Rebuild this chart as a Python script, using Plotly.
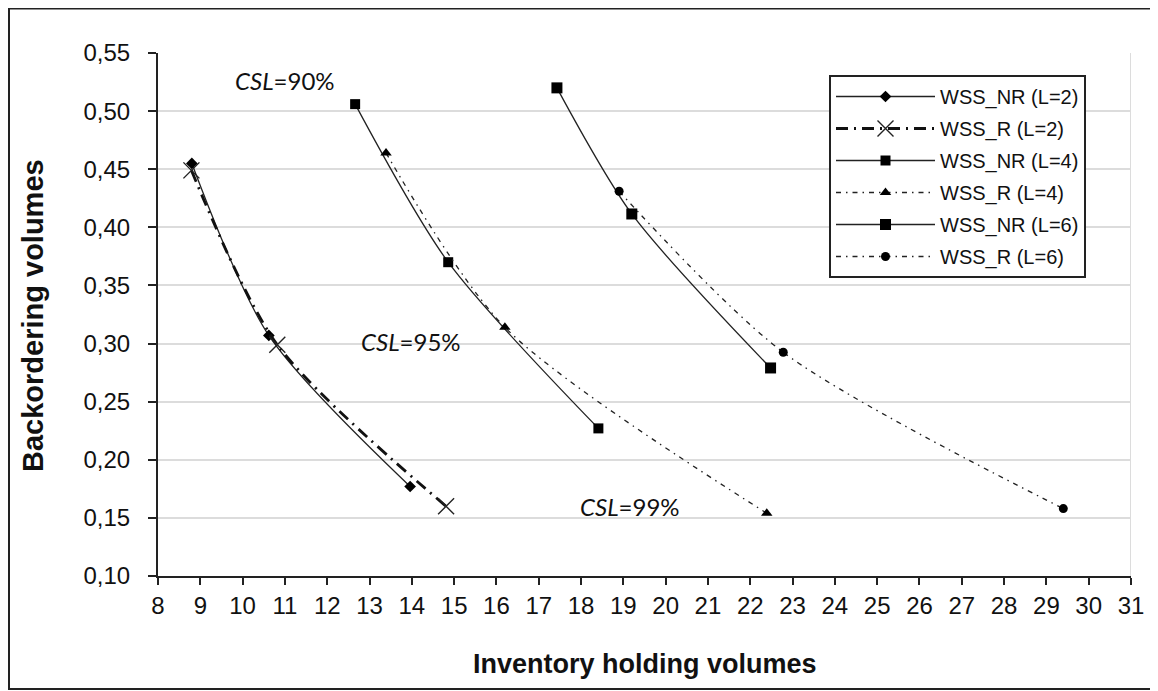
import plotly.graph_objects as go

# Data
nr2_x = [8.80, 10.62, 13.96]
nr2_y = [0.455, 0.307, 0.177]
r2_x = [8.79, 10.82, 14.81]
r2_y = [0.449, 0.299, 0.160]
nr4_x = [12.66, 14.86, 18.41]
nr4_y = [0.506, 0.370, 0.227]
r4_x = [13.39, 16.20, 22.39]
r4_y = [0.464, 0.314, 0.154]
nr6_x = [17.43, 19.20, 22.48]
nr6_y = [0.520, 0.4115, 0.279]
r6_x = [18.90, 22.78, 29.40]
r6_y = [0.431, 0.2925, 0.158]

names = ["WSS_NR (L=2)", "WSS_R (L=2)", "WSS_NR (L=4)", "WSS_R (L=4)", "WSS_NR (L=6)", "WSS_R (L=6)"]

csl_labels = ["<i>CSL</i>=90%", "<i>CSL</i>=95%", "<i>CSL</i>=99%"]
csl_x = [11.0, 13.98, 19.15]
csl_y = [0.526, 0.302, 0.160]

fig = go.Figure()

series = [
    (nr2_x, nr2_y, dict(color="#222", width=1.3), dict(symbol="diamond", size=9, color="black")),
    (r2_x, r2_y, dict(color="#111", width=2.8, dash="12px,6px,2px,6px"),
     dict(symbol="x-thin-open", size=16, color="#222", line=dict(width=1.4, color="#222"))),
    (nr4_x, nr4_y, dict(color="#222", width=1.3), dict(symbol="square", size=10, color="black")),
    (r4_x, r4_y, dict(color="#222", width=1.3, dash="5px,5px,1.5px,5px"), dict(symbol="triangle-up", size=10, color="black")),
    (nr6_x, nr6_y, dict(color="#222", width=1.3), dict(symbol="square", size=11, color="black")),
    (r6_x, r6_y, dict(color="#222", width=1.3, dash="5px,5px,1.5px,5px"), dict(symbol="circle", size=9, color="black")),
]

for i, (xs, ys, ln, mk) in enumerate(series):
    ln = dict(ln)
    ln["shape"] = "spline"
    ln["smoothing"] = 0.8
    fig.add_trace(go.Scatter(x=xs, y=ys, mode="lines+markers", name=names[i],
                             line=ln, marker=mk, legendgroup=f"g{i}"))

for t, x, y in zip(csl_labels, csl_x, csl_y):
    fig.add_annotation(x=x, y=y, text=t, showarrow=False, xanchor="center", yanchor="middle",
                       font=dict(family="Lato, Open Sans, sans-serif", size=24, color="#111"))

# Figure geometry (page has an 8px body margin)
W, H = 1150, 683
L, R, T, B = 150, 27, 45, 115
pw, ph = W - L - R, H - T - B
def px(xp):
    return (xp - L) / pw
def py(yp):
    return (H - B - yp) / ph

fig.add_shape(type="rect", xref="paper", yref="paper",
              x0=px(1), x1=px(1144), y0=py(681), y1=py(0.5),
              line=dict(color="#222", width=2), fillcolor="rgba(0,0,0,0)", layer="below")

# axis titles
fig.add_annotation(xref="paper", yref="paper", x=px(637), y=py(656), text="<b>Inventory holding volumes</b>",
                   xanchor="center", yanchor="middle",
                   showarrow=False, font=dict(family="Liberation Sans, Arial", size=27, color="#111"))
fig.add_annotation(xref="paper", yref="paper", x=px(25), y=py(308), text="<b>Backordering volumes</b>",
                   xanchor="center", yanchor="middle",
                   showarrow=False, textangle=-90, font=dict(family="Liberation Sans, Arial", size=29, color="#111"))

fig.update_layout(
    width=W, height=H,
    margin=dict(l=L, r=R, t=T, b=B),
    paper_bgcolor="white", plot_bgcolor="white",
    separators=", ",
    font=dict(family="Liberation Sans, Arial", color="#111"),
    showlegend=True,
    legend=dict(x=px(821), y=py(67), xanchor="left", yanchor="top",
                bordercolor="#222", borderwidth=2, bgcolor="white",
                font=dict(family="Liberation Sans, Arial", size=20, color="#111"),
                tracegroupgap=3, traceorder="grouped", itemwidth=99),
    xaxis=dict(range=[8, 31], tickmode="linear", tick0=8, dtick=1, showgrid=False,
               showline=True, linecolor="#222", linewidth=2, ticks="outside", ticklen=7,
               tickcolor="#222", tickwidth=2, tickfont=dict(size=24, color="#111"),
               zeroline=False, mirror=False),
    yaxis=dict(range=[0.10, 0.55], tickmode="linear", tick0=0.10, dtick=0.05, tickformat=".2f",
               showgrid=True, gridcolor="#dcdcdc", gridwidth=2,
               showline=True, linecolor="#222", linewidth=2, ticks="outside", ticklen=8,
               tickcolor="#222", tickwidth=2, tickfont=dict(size=24, color="#111"), zeroline=False,
               ticklabelstandoff=13),
)
fig.add_shape(type="line", xref="x", yref="y", x0=31, x1=31, y0=0.10, y1=0.55,
              line=dict(color="#dcdcdc", width=2), layer="below")

fig.write_html("out.html")
